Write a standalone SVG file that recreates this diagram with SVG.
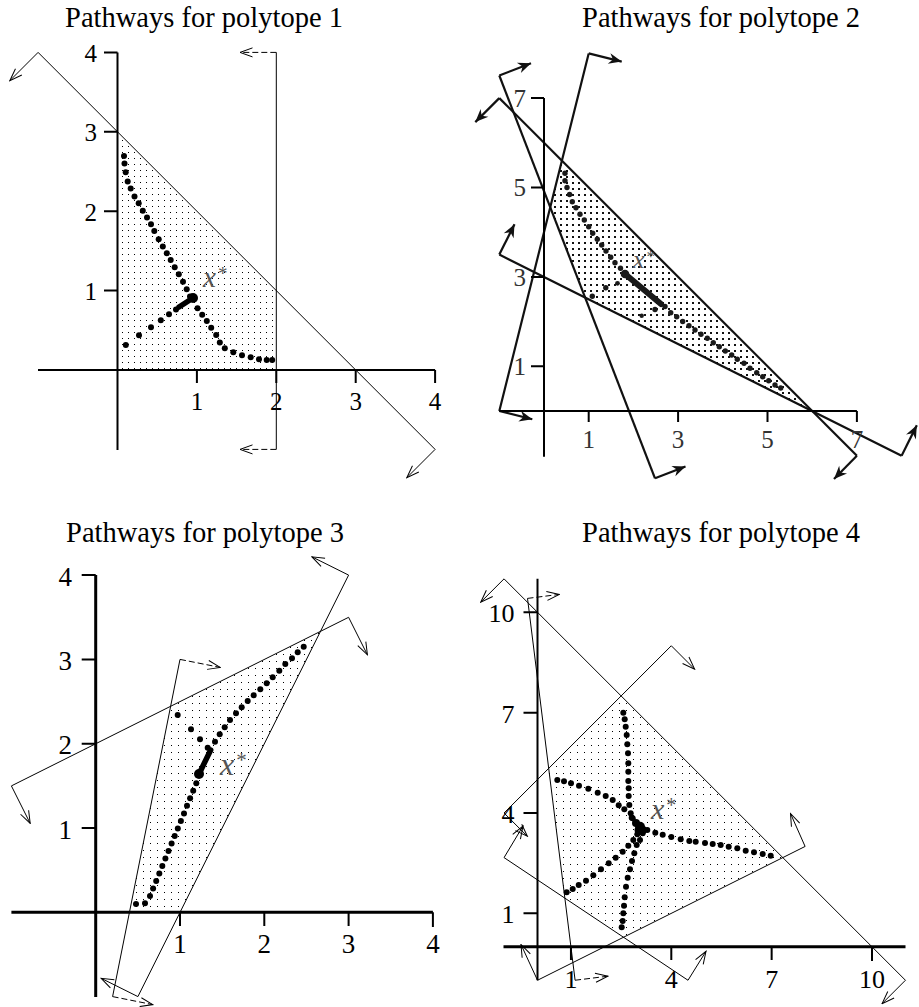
<svg xmlns="http://www.w3.org/2000/svg" width="919" height="1007" viewBox="0 0 919 1007">
<style>
.bg{fill:#fff}
.ax{stroke:#000;stroke-width:2;fill:none}
.ax3{stroke:#000;stroke-width:3;fill:none}
.tk{stroke:#000;stroke-width:2}
.c1{stroke:#000;stroke-width:1;fill:none}
.c2{stroke:#111;stroke-width:2.2;fill:none}
.dash{stroke-dasharray:6 3}
.d1{fill:#000}
.d2{fill:#1a1a1a}
.title{font-family:"Liberation Serif","Times New Roman",serif;font-size:28.5px;fill:#000;text-anchor:middle}
.num{font-family:"Liberation Serif","Times New Roman",serif;fill:#000}
.xs{font-family:"Liberation Serif","Times New Roman",serif;font-style:italic;fill:#555}
</style>
<defs>
<marker id="av" viewBox="-14 -7 15 14" refX="0" refY="0" markerWidth="15" markerHeight="14" orient="auto" markerUnits="userSpaceOnUse">
<path d="M-12.5,-4.5 L0,0 L-12.5,4.5" fill="none" stroke="#000" stroke-width="1"/>
</marker>
<marker id="ah" viewBox="-15 -7 16 14" refX="0" refY="0" markerWidth="16" markerHeight="14" orient="auto" markerUnits="userSpaceOnUse">
<path d="M0,0 L-13,-5.5 L-9,0 L-13,5.5 Z" fill="#111"/>
</marker>
<pattern id="p1" width="6" height="6" patternUnits="userSpaceOnUse"><rect x="2" y="2" width="1" height="1" fill="#000"/></pattern>
<pattern id="p3" width="7" height="7" patternUnits="userSpaceOnUse"><rect x="3" y="3" width="1" height="1" fill="#000"/></pattern>
<pattern id="p2" width="6" height="6" patternUnits="userSpaceOnUse"><rect x="2" y="2" width="2" height="2" fill="#111"/></pattern>
</defs>
<rect class="bg" x="0" y="0" width="919" height="1007"/>

<!-- ================= Panel 1 ================= -->
<g id="panel1">
<text class="title" x="204" y="27">Pathways for polytope 1</text>
<polygon points="117.5,370 117.5,131.8 276.3,290.6 276.3,370" fill="url(#p1)"/>
<g id="p1-constraints">
<line class="c1" x1="38.1" y1="52.4" x2="435.1" y2="449.4"/>
<line class="c1" x1="38.1" y1="52.4" x2="9.8" y2="80.7" marker-end="url(#av)"/>
<line class="c1" x1="435.1" y1="449.4" x2="406.8" y2="477.7" marker-end="url(#av)"/>
<line class="c1" x1="276.3" y1="52.4" x2="276.3" y2="449.4"/>
<line class="c1 dash" x1="276.3" y1="52.4" x2="240" y2="52.4" marker-end="url(#av)"/>
<line class="c1 dash" x1="276.3" y1="449.4" x2="240" y2="449.4" marker-end="url(#av)"/>
</g>
<g id="p1-axes">
<line class="ax" x1="117.5" y1="52.4" x2="117.5" y2="450"/>
<line class="ax" x1="38" y1="370" x2="435.1" y2="370"/>
<path class="tk" d="M104,290.6H117.5M104,211.2H117.5M104,131.8H117.5M104,52.4H117.5M196.9,370V383M276.3,370V383M355.7,370V383M435.1,370V383"/>
<g class="num" font-family="Liberation Serif, serif" font-size="25" text-anchor="end">
<text x="97" y="300">1</text><text x="97" y="220.5">2</text><text x="97" y="141">3</text><text x="97" y="61.5">4</text>
</g>
<g class="num" font-family="Liberation Serif, serif" font-size="25" text-anchor="middle">
<text x="196.9" y="410">1</text><text x="276.3" y="410">2</text><text x="355.7" y="410">3</text><text x="435.1" y="410">4</text>
</g>
</g>
<g id="p1-paths" class="d1">
<circle cx="124" cy="156" r="3"/><circle cx="124.5" cy="163.5" r="3"/><circle cx="125.7" cy="172.3" r="3"/><circle cx="127.7" cy="181.5" r="3"/><circle cx="130.7" cy="188.5" r="3"/><circle cx="134.5" cy="196.5" r="3"/><circle cx="138.7" cy="203.3" r="3"/><circle cx="142.8" cy="210.8" r="3"/><circle cx="147" cy="217.5" r="3"/><circle cx="151" cy="224.2" r="3"/><circle cx="154.3" cy="231" r="3"/><circle cx="158.7" cy="239.3" r="3"/><circle cx="162.8" cy="246.5" r="3"/><circle cx="166.8" cy="253.3" r="3"/><circle cx="170.7" cy="260" r="3"/><circle cx="174.7" cy="267.3" r="3"/><circle cx="178.8" cy="274.3" r="3"/><circle cx="183" cy="281.7" r="3"/><circle cx="186.7" cy="289.3" r="3"/><circle cx="190" cy="296.5" r="3"/>
<circle cx="272.2" cy="360" r="3"/><circle cx="266.7" cy="360" r="3"/><circle cx="259" cy="359.2" r="3"/><circle cx="250.7" cy="357.2" r="3"/><circle cx="242" cy="355.2" r="3"/><circle cx="233.3" cy="352.2" r="3"/><circle cx="224.8" cy="348.2" r="3"/><circle cx="219.8" cy="342.5" r="3"/><circle cx="216.2" cy="335" r="3"/><circle cx="211.2" cy="327.7" r="3"/><circle cx="206.8" cy="321" r="3"/><circle cx="202.2" cy="314.8" r="3"/><circle cx="197.5" cy="308.3" r="3"/>
<circle cx="125.8" cy="345" r="3"/><circle cx="139" cy="335.3" r="3"/><circle cx="151" cy="327.3" r="3"/><circle cx="160.8" cy="320.3" r="3"/><circle cx="169" cy="314.2" r="3"/><circle cx="176" cy="309.5" r="3"/>
<line x1="179" y1="307" x2="193" y2="298" stroke="#000" stroke-width="5.5" stroke-linecap="round"/>
<circle cx="193" cy="298" r="5"/>
</g>
<text class="xs" font-family="Liberation Serif, serif" x="203" y="287" font-size="29">x<tspan font-size="19" dx="2" dy="-7" font-style="normal">*</tspan></text>
</g>

<!-- ================= Panel 2 ================= -->
<g id="panel2">
<text class="title" x="721" y="27">Pathways for polytope 2</text>
<polygon points="561.9,160.7 550.2,207.3 585.1,297.4 812.2,411" fill="url(#p2)"/>
<g id="p2-constraints">
<line class="c2" x1="499.3" y1="98.1" x2="856.9" y2="455.7"/>
<line class="c2" x1="499.3" y1="98.1" x2="475.3" y2="122.1" marker-end="url(#ah)"/>
<line class="c2" x1="856.9" y1="455.7" x2="834" y2="479" marker-end="url(#ah)"/>
<line class="c2" x1="499.3" y1="254.6" x2="901.6" y2="455.7"/>
<line class="c2" x1="499.3" y1="254.6" x2="514.5" y2="224.2" marker-end="url(#ah)"/>
<line class="c2" x1="901.6" y1="455.7" x2="916.8" y2="425.3" marker-end="url(#ah)"/>
<line class="c2" x1="499.3" y1="75.5" x2="655" y2="478.3"/>
<line class="c2" x1="499.3" y1="75.5" x2="531" y2="63.2" marker-end="url(#ah)"/>
<line class="c2" x1="655" y1="478.3" x2="685.5" y2="466.5" marker-end="url(#ah)"/>
<line class="c2" x1="499.3" y1="411" x2="588.7" y2="53.4"/>
<line class="c2" x1="588.7" y1="53.4" x2="621.7" y2="61.6" marker-end="url(#ah)"/>
<line class="c2" x1="499.3" y1="411" x2="532.3" y2="419.2" marker-end="url(#ah)"/>
</g>
<g id="p2-axes">
<line class="ax" x1="544" y1="98.1" x2="544" y2="456.7"/>
<line class="ax" x1="499.3" y1="411" x2="856.9" y2="411"/>
<path class="tk" d="M531,366.3H544M531,276.9H544M531,187.5H544M531,98.1H544M588.7,411V422M678.1,411V422M767.5,411V422M856.9,411V422"/>
<g class="num" font-family="Liberation Serif, serif" font-size="25" text-anchor="end">
<text x="526" y="375" fill="#333">1</text><text x="526" y="285.6" fill="#333">3</text><text x="526" y="196.3" fill="#333">5</text><text x="526" y="106.8" fill="#333">7</text>
</g>
<g class="num" font-family="Liberation Serif, serif" font-size="25" text-anchor="middle">
<text x="588.7" y="448" fill="#333">1</text><text x="678.1" y="448" fill="#333">3</text><text x="767.5" y="448" fill="#333">5</text><text x="856.9" y="448" fill="#333">7</text>
</g>
</g>
<g id="p2-paths" class="d2">
<circle cx="565" cy="173.3" r="2.7"/><circle cx="565" cy="180.7" r="2.7"/><circle cx="567" cy="187.5" r="2.7"/><circle cx="569.6" cy="194.5" r="2.7"/><circle cx="572.3" cy="201.7" r="2.7"/><circle cx="576" cy="207.7" r="2.7"/><circle cx="580" cy="214.3" r="2.7"/><circle cx="584.3" cy="220" r="2.7"/><circle cx="588.7" cy="226.7" r="2.7"/><circle cx="592.7" cy="233.3" r="2.7"/><circle cx="597.3" cy="239.3" r="2.7"/><circle cx="601.7" cy="245" r="2.7"/><circle cx="606" cy="251" r="2.7"/><circle cx="610.7" cy="257.3" r="2.7"/><circle cx="615" cy="262.7" r="2.7"/><circle cx="620.5" cy="268.3" r="2.7"/>
<line x1="625" y1="274" x2="661" y2="304" stroke="#1a1a1a" stroke-width="6" stroke-linecap="round"/>
<circle cx="625" cy="274" r="4.3"/>
<circle cx="655" cy="309.5" r="2.7"/><circle cx="665" cy="306.5" r="2.7"/><circle cx="670.7" cy="312.7" r="2.7"/><circle cx="676.7" cy="316.7" r="2.7"/><circle cx="682.7" cy="321.5" r="2.7"/><circle cx="689" cy="325.7" r="2.7"/><circle cx="695" cy="330" r="2.7"/><circle cx="701" cy="334.3" r="2.7"/><circle cx="707.3" cy="338.3" r="2.7"/><circle cx="713.3" cy="342.7" r="2.7"/><circle cx="719.3" cy="346.7" r="2.7"/><circle cx="725.3" cy="351" r="2.7"/><circle cx="731.7" cy="355" r="2.7"/><circle cx="737.3" cy="359.3" r="2.7"/><circle cx="744" cy="363.3" r="2.7"/><circle cx="750" cy="368.3" r="2.7"/><circle cx="756.7" cy="372.7" r="2.7"/><circle cx="762.7" cy="376.7" r="2.7"/><circle cx="768.7" cy="380.7" r="2.7"/><circle cx="775" cy="385" r="2.7"/><circle cx="780.7" cy="388" r="2.7"/>
<circle cx="592.3" cy="296.2" r="2.7"/><circle cx="605.8" cy="287.8" r="2.7"/><circle cx="617.5" cy="283.3" r="2.4"/><circle cx="641.7" cy="315.7" r="2.2"/>
</g>
<text class="xs" font-family="Liberation Serif, serif" x="633" y="268" font-size="26">x<tspan font-size="17" dx="2" dy="-6" font-style="normal">*</tspan></text>
</g>

<!-- ================= Panel 3 ================= -->
<g id="panel3">
<text class="title" x="205" y="542">Pathways for polytope 3</text>
<polygon points="129.4,912.3 180,912.3 320.5,631.3 170.6,706.2" fill="url(#p3)"/>
<g id="p3-constraints">
<line class="c1" x1="11.4" y1="785.9" x2="348.6" y2="617.3"/>
<line class="c1" x1="11.4" y1="785.9" x2="30.2" y2="823.4" marker-end="url(#av)"/>
<line class="c1" x1="348.6" y1="617.3" x2="367.4" y2="654.8" marker-end="url(#av)"/>
<line class="c1" x1="348.6" y1="575.1" x2="137.9" y2="996.6"/>
<line class="c1" x1="348.6" y1="575.1" x2="311.9" y2="556.8" marker-end="url(#av)"/>
<line class="c1" x1="137.9" y1="996.6" x2="101.2" y2="978.3" marker-end="url(#av)"/>
<line class="c1" x1="180" y1="659.4" x2="112.6" y2="996.6"/>
<line class="c1 dash" x1="180" y1="659.4" x2="220.2" y2="667.4" marker-end="url(#av)"/>
<line class="c1 dash" x1="112.6" y1="996.6" x2="152.8" y2="1004.6" marker-end="url(#av)"/>
</g>
<g id="p3-axes">
<line class="ax3" x1="95.7" y1="575.1" x2="95.7" y2="997"/>
<line class="ax3" x1="11.4" y1="912.3" x2="432.9" y2="912.3"/>
<path class="tk" stroke-width="2.5" d="M81.7,828H95.7M81.7,743.7H95.7M81.7,659.4H95.7M81.7,575.1H95.7M180,912.3V926M264.3,912.3V926M348.6,912.3V926M432.9,912.3V927"/>
<g class="num" font-family="Liberation Serif, serif" font-size="27" text-anchor="end">
<text x="72" y="838.5">1</text><text x="72" y="754.2">2</text><text x="72" y="670">3</text><text x="72" y="585.6">4</text>
</g>
<g class="num" font-family="Liberation Serif, serif" font-size="27" text-anchor="middle">
<text x="180" y="953">1</text><text x="264.3" y="953">2</text><text x="348.6" y="953">3</text><text x="432.9" y="953">4</text>
</g>
</g>
<g id="p3-paths" class="d1">
<circle cx="136" cy="904" r="3"/><circle cx="145" cy="903.3" r="3"/><circle cx="150" cy="896" r="3"/><circle cx="153.1" cy="888.5" r="3"/><circle cx="156.2" cy="881" r="3"/><circle cx="159.3" cy="873.5" r="3"/><circle cx="162.3" cy="866" r="3"/><circle cx="165.4" cy="858.4" r="3"/><circle cx="168.5" cy="850.9" r="3"/><circle cx="171.6" cy="843.4" r="3"/><circle cx="174.7" cy="835.9" r="3"/><circle cx="177.8" cy="828.4" r="3"/><circle cx="180.9" cy="820.9" r="3"/><circle cx="184" cy="813.4" r="3"/><circle cx="187" cy="805.8" r="3"/><circle cx="190.1" cy="798.3" r="3"/><circle cx="193.2" cy="790.8" r="3"/><circle cx="196.3" cy="783.3" r="3"/>
<line x1="199" y1="774" x2="210.7" y2="750" stroke="#000" stroke-width="5.5" stroke-linecap="round"/>
<circle cx="199" cy="774" r="5"/>
<circle cx="215" cy="741.7" r="3"/><circle cx="219.7" cy="734.3" r="3"/><circle cx="224.7" cy="727.3" r="3"/><circle cx="230" cy="720" r="3"/><circle cx="236" cy="713.3" r="3"/><circle cx="241.7" cy="707.3" r="3"/><circle cx="247.7" cy="701" r="3"/><circle cx="253.7" cy="695.3" r="3"/><circle cx="260.3" cy="689.3" r="3"/><circle cx="266.7" cy="683.3" r="3"/><circle cx="272.7" cy="677.3" r="3"/><circle cx="279.3" cy="670.7" r="3"/><circle cx="285.3" cy="664" r="3"/><circle cx="292" cy="658.3" r="3"/><circle cx="297.7" cy="652.3" r="3"/><circle cx="303.7" cy="646.7" r="3"/>
<circle cx="177.7" cy="715" r="3"/><circle cx="191" cy="729.3" r="3"/><circle cx="200" cy="739.3" r="3"/><circle cx="207.7" cy="747.7" r="3"/>
</g>
<text class="xs" font-family="Liberation Serif, serif" x="220" y="775" font-size="32">x<tspan font-size="21" dx="2" dy="-8" font-style="normal">*</tspan></text>
</g>

<!-- ================= Panel 4 ================= -->
<g id="panel4">
<text class="title" x="721" y="542">Pathways for polytope 4</text>
<polygon points="548.65,768.4 621.1,695.9 782.8,857.6 623.5,937.2 564.9,898.15" fill="url(#p3)"/>
<g id="p4-constraints">
<line class="c1" x1="504.05" y1="578.85" x2="905.45" y2="980.25"/>
<line class="c1" x1="504.05" y1="578.85" x2="480.7" y2="602.2" marker-end="url(#av)"/>
<line class="c1" x1="905.45" y1="980.25" x2="882.1" y2="1003.6" marker-end="url(#av)"/>
<line class="c1" x1="504.05" y1="813" x2="671.3" y2="645.75"/>
<line class="c1" x1="671.3" y1="645.75" x2="694.6" y2="669.1" marker-end="url(#av)"/>
<line class="c1" x1="504.05" y1="813" x2="527.4" y2="836.3" marker-end="url(#av)"/>
<line class="c1" x1="504.05" y1="857.6" x2="688" y2="980.25"/>
<line class="c1" x1="504.05" y1="857.6" x2="523" y2="826" marker-end="url(#av)"/>
<line class="c1" x1="688" y1="980.25" x2="706" y2="951.3" marker-end="url(#av)"/>
<line class="c1" x1="537.5" y1="980.25" x2="805.1" y2="846.45"/>
<line class="c1" x1="805.1" y1="846.45" x2="790.5" y2="813.5" marker-end="url(#av)"/>
<line class="c1" x1="537.5" y1="980.25" x2="521" y2="944.5" marker-end="url(#av)"/>
<line class="c1" x1="527.5" y1="598.4" x2="575.1" y2="980.25"/>
<line class="c1 dash" x1="527.5" y1="598.4" x2="559.3" y2="594.4" marker-end="url(#av)"/>
<line class="c1 dash" x1="575.1" y1="980.25" x2="607.9" y2="976.2" marker-end="url(#av)"/>
</g>
<g id="p4-axes">
<line class="ax" stroke-width="2.5" x1="537.5" y1="578.85" x2="537.5" y2="980.25"/>
<line class="ax3" stroke-width="3.5" x1="503.5" y1="946.8" x2="905.5" y2="946.8"/>
<path class="tk" stroke-width="2.5" d="M523.5,913.35H537.5M523.5,813H537.5M523.5,712.65H537.5M523.5,612.3H537.5M570.95,946.8V960M671.3,946.8V960M771.65,946.8V960M872,946.8V961"/>
<g class="num" font-family="Liberation Serif, serif" font-size="26" text-anchor="end">
<text x="514.5" y="923">1</text><text x="514.5" y="822.8">4</text><text x="514.5" y="722.8">7</text><text x="514.5" y="621.8">10</text>
</g>
<g class="num" font-family="Liberation Serif, serif" font-size="26" text-anchor="middle">
<text x="570.95" y="988">1</text><text x="671.3" y="988">4</text><text x="771.65" y="988">7</text><text x="872" y="988">10</text>
</g>
</g>
<g id="p4-paths" class="d1">
<circle cx="623.3" cy="712.7" r="3"/><circle cx="624.7" cy="719.3" r="3"/><circle cx="625.7" cy="726.7" r="3"/><circle cx="626.7" cy="735" r="3"/><circle cx="627.3" cy="744.3" r="3"/><circle cx="628" cy="753.3" r="3"/><circle cx="628.3" cy="763.3" r="3"/><circle cx="628.3" cy="771.7" r="3"/><circle cx="628.3" cy="781" r="3"/><circle cx="628.7" cy="788.3" r="3"/><circle cx="628.7" cy="796" r="3"/><circle cx="629.3" cy="805" r="3"/><circle cx="630.7" cy="813.3" r="3"/><circle cx="632.7" cy="818.3" r="3"/>
<circle cx="557.3" cy="780" r="3"/><circle cx="564" cy="781.3" r="3"/><circle cx="571" cy="783.3" r="3"/><circle cx="579" cy="785.7" r="3"/><circle cx="588.3" cy="788.7" r="3"/><circle cx="597.7" cy="792.7" r="3"/><circle cx="605.7" cy="796" r="3"/><circle cx="612.7" cy="800" r="3"/><circle cx="618.7" cy="805.3" r="3"/><circle cx="624.3" cy="809.3" r="3"/><circle cx="631.7" cy="817.7" r="3"/>
<circle cx="770.7" cy="855.7" r="3"/><circle cx="762.7" cy="854" r="3"/><circle cx="754" cy="852.3" r="3"/><circle cx="745.7" cy="850.7" r="3"/><circle cx="737.3" cy="848.3" r="3"/><circle cx="728.7" cy="846.7" r="3"/><circle cx="720.7" cy="845" r="3"/><circle cx="712.7" cy="844" r="3"/><circle cx="705" cy="843" r="3"/><circle cx="695.7" cy="841.7" r="3"/><circle cx="689.3" cy="841" r="3"/><circle cx="680.7" cy="839.3" r="3"/><circle cx="671.3" cy="837" r="3"/><circle cx="662.7" cy="834.7" r="3"/><circle cx="655.3" cy="832.7" r="3"/><circle cx="647.3" cy="830" r="3"/>
<circle cx="566.7" cy="892.3" r="3"/><circle cx="572.7" cy="889" r="3"/><circle cx="578.7" cy="885" r="3"/><circle cx="586" cy="880.7" r="3"/><circle cx="593.3" cy="875.3" r="3"/><circle cx="601" cy="869.3" r="3"/><circle cx="608.7" cy="863.3" r="3"/><circle cx="615.7" cy="857.7" r="3"/><circle cx="622.7" cy="851.7" r="3"/><circle cx="628.3" cy="845.7" r="3"/><circle cx="633.3" cy="840" r="3"/><circle cx="637.3" cy="834.3" r="3"/>
<circle cx="621.7" cy="927.3" r="3"/><circle cx="622.7" cy="921" r="3"/><circle cx="623.3" cy="913.3" r="3"/><circle cx="624" cy="905.7" r="3"/><circle cx="624.7" cy="897.3" r="3"/><circle cx="626" cy="886.7" r="3"/><circle cx="627.7" cy="877.7" r="3"/><circle cx="630" cy="869.3" r="3"/><circle cx="632" cy="861" r="3"/><circle cx="634.3" cy="853.3" r="3"/><circle cx="636.7" cy="845" r="3"/><circle cx="640" cy="840" r="3"/><circle cx="642.7" cy="833.3" r="3"/>
<circle cx="636" cy="823" r="4"/><circle cx="640" cy="826.7" r="5"/><circle cx="643" cy="830" r="4"/><circle cx="638" cy="830" r="3.5"/>
</g>
<text class="xs" font-family="Liberation Serif, serif" x="651" y="819" font-size="30">x<tspan font-size="20" dx="2" dy="-7" font-style="normal">*</tspan></text>
</g>
</svg>
